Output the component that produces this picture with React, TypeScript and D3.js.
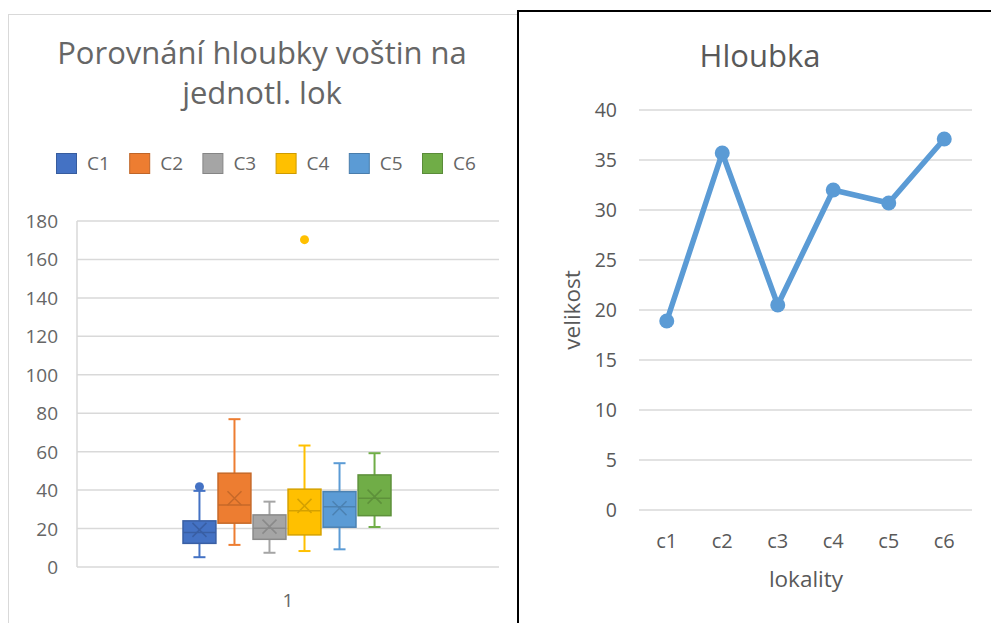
import React from "react";
import * as d3 from "d3";

// box plot – Porovnání hloubky voštin
const boxSeries = ["C1", "C2", "C3", "C4", "C5", "C6"];
const boxColors = ["#4472C4", "#ED7D31", "#A5A5A5", "#FFC000", "#5B9BD5", "#70AD47"];
const whiskerLow = [5.1, 11.5, 7.4, 8.3, 9.2, 20.8];
const boxQ1 = [12.3, 22.8, 14.4, 16.7, 20.7, 26.7];
const boxMedian = [17.9, 32.3, 20.2, 29.2, 31.4, 35.8];
const boxQ3 = [24.0, 48.8, 27.1, 40.5, 39.2, 47.9];
const whiskerHigh = [39.6, 76.9, 34.0, 63.2, 54.0, 59.2];
const boxMean = [19.3, 35.8, 21.0, 31.8, 30.6, 36.6];
const outlierSeries = ["C1", "C4"];
const outlierValues = [41.8, 170.3];
const boxCategories = ["1"];
const boxTicks = [0, 20, 40, 60, 80, 100, 120, 140, 160, 180];

// line chart – Hloubka
const lokality = ["c1", "c2", "c3", "c4", "c5", "c6"];
const hloubka = [18.9, 35.7, 20.5, 32.0, 30.7, 37.1];
const lineTicks = [0, 5, 10, 15, 20, 25, 30, 35, 40];

const FONT = "'Open Sans', sans-serif";
const TEXT = "#595959";
const GRID = "#d9d9d9";

const BoxChart = () => {
  const y = d3.scaleLinear().domain([0, 180]).range([567, 221]);
  const x = d3.scaleBand().domain(boxCategories).range([77, 499]);
  const cx = (x("1") ?? 0) + x.bandwidth() / 2;
  const inner = d3.scaleBand().domain(boxSeries).range([cx - 105, cx + 103]).paddingInner(0.06);
  const bw = inner.bandwidth();

  return (
    <g fontFamily={FONT}>
      <rect x={8.5} y={14.5} width={510} height={640} fill="#fff" stroke={GRID} strokeWidth={1} />
      <text x={262} y={64} textAnchor="middle" fontSize={31} fill="#666">Porovnání hloubky voštin na</text>
      <text x={262} y={104} textAnchor="middle" fontSize={31} fill="#666">jednotl. lok</text>

      {boxSeries.map((s, i) => (
        <g key={s} transform={`translate(${56 + i * 73.2},153)`}>
          <rect x={0.5} y={0.5} width={20} height={20} fill={boxColors[i]} stroke={d3.color(boxColors[i])!.darker(0.6).toString()} />
          <text x={31} y={17} fontSize={19} fill="#666">{s}</text>
        </g>
      ))}

      {boxTicks.map((t) => (
        <g key={t}>
          <line x1={77} x2={499} y1={y(t)} y2={y(t)} stroke={GRID} strokeWidth={1.5} />
          <text x={58} y={y(t) + 7} textAnchor="end" fontSize={19} fill="#666">{t}</text>
        </g>
      ))}
      <line x1={77} x2={77} y1={y(180)} y2={y(0)} stroke={GRID} strokeWidth={1.5} />
      <text x={cx} y={607} textAnchor="middle" fontSize={19} fill="#666">1</text>

      {boxSeries.map((s, i) => {
        const bx = inner(s) ?? 0;
        const mid = bx + bw / 2;
        const dark = d3.color(boxColors[i])!.darker(0.5).toString();
        const m = y(boxMean[i]);
        const cap = 6;
        const xs = 7;
        return (
          <g key={s}>
            <line x1={mid} x2={mid} y1={y(whiskerHigh[i])} y2={y(boxQ3[i])} stroke={boxColors[i]} strokeWidth={2} />
            <line x1={mid} x2={mid} y1={y(boxQ1[i])} y2={y(whiskerLow[i])} stroke={boxColors[i]} strokeWidth={2} />
            <line x1={mid - cap} x2={mid + cap} y1={y(whiskerHigh[i])} y2={y(whiskerHigh[i])} stroke={boxColors[i]} strokeWidth={2} />
            <line x1={mid - cap} x2={mid + cap} y1={y(whiskerLow[i])} y2={y(whiskerLow[i])} stroke={boxColors[i]} strokeWidth={2} />
            <rect x={bx} y={y(boxQ3[i])} width={bw} height={y(boxQ1[i]) - y(boxQ3[i])} fill={boxColors[i]} stroke={dark} strokeWidth={1.5} />
            <line x1={bx} x2={bx + bw} y1={y(boxMedian[i])} y2={y(boxMedian[i])} stroke={dark} strokeWidth={1.5} />
            <path d={`M${mid - xs},${m - xs}L${mid + xs},${m + xs}M${mid - xs},${m + xs}L${mid + xs},${m - xs}`} stroke={dark} strokeWidth={1.5} />
          </g>
        );
      })}
      {outlierSeries.map((s, k) => {
        const i = boxSeries.indexOf(s);
        return <circle key={s} cx={(inner(s) ?? 0) + bw / 2} cy={y(outlierValues[k])} r={4.5} fill={boxColors[i]} />;
      })}
    </g>
  );
};

const LineChart = () => {
  const x = d3.scaleBand().domain(lokality).range([639, 972]);
  const y = d3.scaleLinear().domain([0, 40]).range([510, 110]);
  const px = (c: string) => (x(c) ?? 0) + x.bandwidth() / 2;
  const line = d3.line<number>().x((_, i) => px(lokality[i])).y((d) => y(d));

  return (
    <g fontFamily={FONT}>
      <rect x={518} y={11} width={500} height={640} fill="#fff" stroke="#000" strokeWidth={2} />
      <text x={760} y={67} textAnchor="middle" fontSize={31} fill={TEXT}>Hloubka</text>
      {lineTicks.map((t) => (
        <g key={t}>
          <line x1={639} x2={972} y1={y(t)} y2={y(t)} stroke={GRID} strokeWidth={1.5} />
          <text x={617} y={y(t) + 7} textAnchor="end" fontSize={19.5} fill={TEXT}>{t}</text>
        </g>
      ))}
      {lokality.map((c) => (
        <text key={c} x={px(c)} y={548} textAnchor="middle" fontSize={20} fill={TEXT}>{c}</text>
      ))}
      <text x={806} y={587} textAnchor="middle" fontSize={22.5} fill={TEXT}>lokality</text>
      <text transform={`translate(580,${(y(0) + y(40)) / 2}) rotate(-90)`} textAnchor="middle" fontSize={22.5} fill={TEXT}>velikost</text>
      <path d={line(hloubka) ?? ""} fill="none" stroke="#5B9BD5" strokeWidth={5.5} strokeLinejoin="round" />
      {hloubka.map((v, i) => (
        <circle key={i} cx={px(lokality[i])} cy={y(v)} r={7.5} fill="#5B9BD5" />
      ))}
    </g>
  );
};

export default function App() {
  return (
    <div style={{ position: "absolute", left: 0, top: 0 }}>
      <svg width={991} height={623} style={{ display: "block", background: "#fff" }}>
        <BoxChart />
        <LineChart />
      </svg>
    </div>
  );
}
